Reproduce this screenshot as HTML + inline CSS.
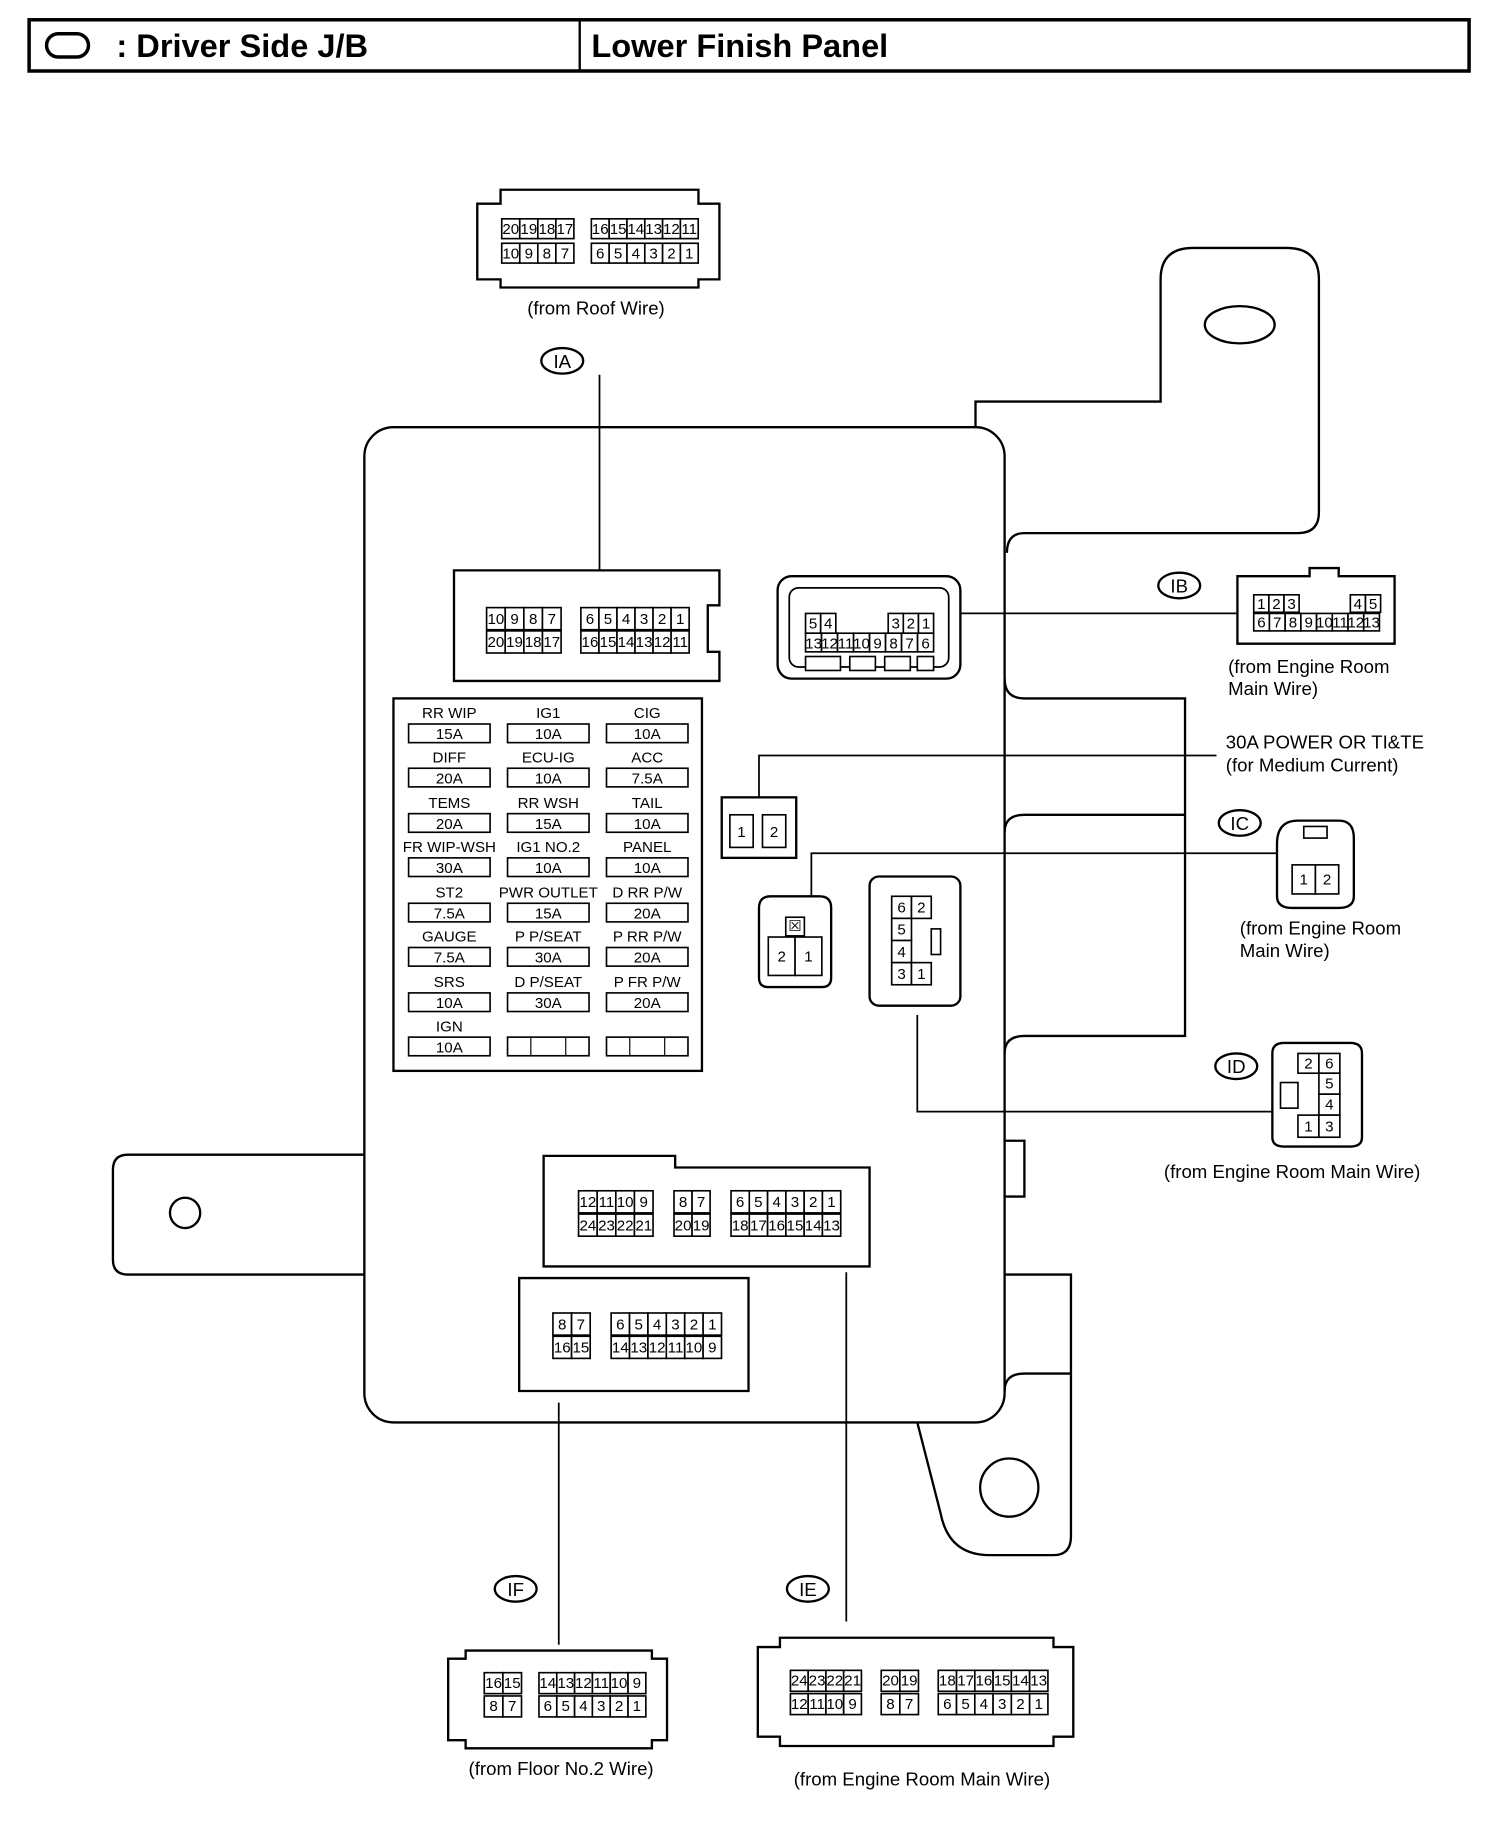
<!DOCTYPE html>
<html><head><meta charset="utf-8"><style>
html,body{margin:0;padding:0;background:#fff}
svg{display:block}
text{font-family:"Liberation Sans",Arial,sans-serif;text-anchor:middle;fill:#000}
.c rect{fill:#fff;stroke:#000;stroke-width:1.4}
.c text{font-size:13px}
.o{fill:none;stroke:#000;stroke-width:2}
.b{fill:#fff;stroke:#000;stroke-width:2}
.l{fill:none;stroke:#000;stroke-width:1.5}
.s{font-size:16px}
.sl{font-size:16px;text-anchor:start}
</style></head><body>
<svg width="1504" height="1824" viewBox="0 0 1292 1567" preserveAspectRatio="none" xmlns="http://www.w3.org/2000/svg">
<!-- header -->
<rect x="25" y="17" width="1237" height="44" fill="none" stroke="#000" stroke-width="3"/>
<line x1="498" y1="17" x2="498" y2="61" stroke="#000" stroke-width="2"/>
<rect x="40" y="29" width="36" height="20" rx="10" fill="none" stroke="#000" stroke-width="3"/>
<text x="100" y="49" style="font-size:28px;font-weight:bold;text-anchor:start">: Driver Side J/B</text>
<text x="508" y="49" style="font-size:28px;font-weight:bold;text-anchor:start">Lower Finish Panel</text>

<!-- brackets -->
<path class="o" d="M838,367 V345 H997 V240 Q997,213 1025,213 H1105 Q1133,213 1133,240 V440 Q1133,458 1115,458 H880 Q865,458 865,475"/>
<ellipse cx="1065" cy="279" rx="30" ry="16" class="o"/>
<path class="o" d="M863,583 Q863,600 880,600 H1018 V890 H880 Q863,890 863,905"/>
<path class="o" d="M863,715 Q863,700 880,700 H1018"/>
<path class="o" d="M313,992 H110 Q97,992 97,1005 V1082 Q97,1095 110,1095 H313"/>
<circle cx="159" cy="1042" r="13" class="o"/>
<path class="o" d="M863,980 H880 V1028 H863"/>
<path class="o" d="M863,1095 H920 V1320 Q920,1336 905,1336 H850 Q815,1336 808,1300 L788,1222"/>
<path class="o" d="M863,1195 Q863,1180 880,1180 H920"/>
<circle cx="867" cy="1278" r="25" class="o"/>
<rect x="313" y="367" width="550" height="855" rx="25" class="b"/>

<!-- leader lines -->
<path class="l" d="M515,322 V490"/>
<path class="l" d="M825,527 H1063"/>
<path class="l" d="M652,685 V649 H1045"/>
<path class="l" d="M697,770 V733 H1097"/>
<path class="l" d="M788,872 V955 H1093"/>
<path class="l" d="M480,1205 V1413"/>
<path class="l" d="M727,1093 V1393"/>

<!-- circle labels -->
<g class="s">
<ellipse cx="483" cy="310" rx="18" ry="11" class="o"/><text x="483" y="316" class="s">IA</text>
<ellipse cx="1013" cy="503" rx="18" ry="11" class="o"/><text x="1013" y="509" class="s">IB</text>
<ellipse cx="1065" cy="707" rx="18" ry="11" class="o"/><text x="1065" y="713" class="s">IC</text>
<ellipse cx="1062" cy="916" rx="18" ry="11" class="o"/><text x="1062" y="922" class="s">ID</text>
<ellipse cx="443" cy="1365" rx="18" ry="11" class="o"/><text x="443" y="1371" class="s">IF</text>
<ellipse cx="694" cy="1365" rx="18" ry="11" class="o"/><text x="694" y="1371" class="s">IE</text>
</g>

<!-- captions -->
<text x="512" y="270" class="s">(from Roof Wire)</text>
<text x="1055" y="578" class="sl">(from Engine Room</text>
<text x="1055" y="597" class="sl">Main Wire)</text>
<text x="1053" y="643" class="sl">30A POWER OR TI&amp;TE</text>
<text x="1053" y="663" class="sl">(for Medium Current)</text>
<text x="1065" y="803" class="sl">(from Engine Room</text>
<text x="1065" y="822" class="sl">Main Wire)</text>
<text x="1110" y="1012" class="s">(from Engine Room Main Wire)</text>
<text x="482" y="1525" class="s">(from Floor No.2 Wire)</text>
<text x="792" y="1534" class="s">(from Engine Room Main Wire)</text>

<!-- connector bodies -->
<path class="b" d="M410,175 H430 V163 H600 V175 H618 V240 H600 V247 H430 V240 H410 Z"/>
<path class="b" d="M390,490 H618 V520 H608 V560 H618 V585 H390 Z"/>
<rect x="668" y="495" width="157" height="88" rx="12" class="b"/>
<rect x="678" y="505" width="137" height="68" rx="8" class="o" style="stroke-width:1.5"/>
<path class="b" d="M1063,495 H1125 V488 H1150 V495 H1198 V553 H1063 Z"/>
<rect x="620" y="685" width="64" height="52" class="b"/>
<path class="b" d="M652,780 Q652,770 662,770 H704 Q714,770 714,780 V840 Q714,848 706,848 H660 Q652,848 652,840 Z"/>
<rect x="747" y="753" width="78" height="111" rx="8" class="b"/>
<path class="b" d="M1097,725 Q1097,705 1115,705 H1150 Q1163,705 1163,720 V770 Q1163,780 1150,780 H1110 Q1097,780 1097,770 Z"/>
<path class="b" d="M1093,905 Q1093,896 1103,896 H1160 Q1170,896 1170,905 V977 Q1170,985 1160,985 H1103 Q1093,985 1093,977 Z"/>
<path class="b" d="M467,993 H580 V1003 H747 V1088 H467 Z"/>
<path class="b" d="M446,1098 H643 V1195 H446 Z"/>
<path class="b" d="M385,1425 H400 V1418 H560 V1425 H573 V1495 H560 V1502 H400 V1495 H385 Z"/>
<path class="b" d="M651,1415 H670 V1407 H905 V1415 H922 V1492 H905 V1500 H670 V1492 H651 Z"/>

<g class="c">
<!-- IA top -->
<rect x="431" y="188" width="15.5" height="17"/><text x="438.8" y="201">20</text>
<rect x="446.5" y="188" width="15.5" height="17"/><text x="454.3" y="201">19</text>
<rect x="462" y="188" width="15.5" height="17"/><text x="469.8" y="201">18</text>
<rect x="477.5" y="188" width="15.5" height="17"/><text x="485.3" y="201">17</text>
<rect x="431" y="209" width="15.5" height="17"/><text x="438.8" y="222">10</text>
<rect x="446.5" y="209" width="15.5" height="17"/><text x="454.3" y="222">9</text>
<rect x="462" y="209" width="15.5" height="17"/><text x="469.8" y="222">8</text>
<rect x="477.5" y="209" width="15.5" height="17"/><text x="485.3" y="222">7</text>
<rect x="508" y="188" width="15.3" height="17"/><text x="515.6" y="201">16</text>
<rect x="523.3" y="188" width="15.3" height="17"/><text x="531" y="201">15</text>
<rect x="538.6" y="188" width="15.3" height="17"/><text x="546.2" y="201">14</text>
<rect x="553.9" y="188" width="15.3" height="17"/><text x="561.5" y="201">13</text>
<rect x="569.2" y="188" width="15.3" height="17"/><text x="576.8" y="201">12</text>
<rect x="584.5" y="188" width="15.3" height="17"/><text x="592.1" y="201">11</text>
<rect x="508" y="209" width="15.3" height="17"/><text x="515.6" y="222">6</text>
<rect x="523.3" y="209" width="15.3" height="17"/><text x="531" y="222">5</text>
<rect x="538.6" y="209" width="15.3" height="17"/><text x="546.2" y="222">4</text>
<rect x="553.9" y="209" width="15.3" height="17"/><text x="561.5" y="222">3</text>
<rect x="569.2" y="209" width="15.3" height="17"/><text x="576.8" y="222">2</text>
<rect x="584.5" y="209" width="15.3" height="17"/><text x="592.1" y="222">1</text>

<!-- IA in box -->
<rect x="418" y="522" width="16" height="19"/><text x="426" y="536">10</text>
<rect x="434" y="522" width="16" height="19"/><text x="442" y="536">9</text>
<rect x="450" y="522" width="16" height="19"/><text x="458" y="536">8</text>
<rect x="466" y="522" width="16" height="19"/><text x="474" y="536">7</text>
<rect x="418" y="542" width="16" height="19"/><text x="426" y="556">20</text>
<rect x="434" y="542" width="16" height="19"/><text x="442" y="556">19</text>
<rect x="450" y="542" width="16" height="19"/><text x="458" y="556">18</text>
<rect x="466" y="542" width="16" height="19"/><text x="474" y="556">17</text>
<rect x="499" y="522" width="15.5" height="19"/><text x="506.8" y="536">6</text>
<rect x="514.5" y="522" width="15.5" height="19"/><text x="522.3" y="536">5</text>
<rect x="530" y="522" width="15.5" height="19"/><text x="537.8" y="536">4</text>
<rect x="545.5" y="522" width="15.5" height="19"/><text x="553.3" y="536">3</text>
<rect x="561" y="522" width="15.5" height="19"/><text x="568.8" y="536">2</text>
<rect x="576.5" y="522" width="15.5" height="19"/><text x="584.3" y="536">1</text>
<rect x="499" y="542" width="15.5" height="19"/><text x="506.8" y="556">16</text>
<rect x="514.5" y="542" width="15.5" height="19"/><text x="522.3" y="556">15</text>
<rect x="530" y="542" width="15.5" height="19"/><text x="537.8" y="556">14</text>
<rect x="545.5" y="542" width="15.5" height="19"/><text x="553.3" y="556">13</text>
<rect x="561" y="542" width="15.5" height="19"/><text x="568.8" y="556">12</text>
<rect x="576.5" y="542" width="15.5" height="19"/><text x="584.3" y="556">11</text>

<!-- IB in box -->
<rect x="692" y="527" width="13" height="17"/><text x="698.5" y="540">5</text>
<rect x="705" y="527" width="13" height="17"/><text x="711.5" y="540">4</text>
<rect x="763" y="527" width="13" height="17"/><text x="769.5" y="540">3</text>
<rect x="776" y="527" width="13" height="17"/><text x="782.5" y="540">2</text>
<rect x="789" y="527" width="13" height="17"/><text x="795.5" y="540">1</text>
<rect x="692" y="544" width="13.75" height="16"/><text x="698.9" y="557">13</text>
<rect x="705.75" y="544" width="13.75" height="16"/><text x="712.6" y="557">12</text>
<rect x="719.5" y="544" width="13.75" height="16"/><text x="726.4" y="557">11</text>
<rect x="733.25" y="544" width="13.75" height="16"/><text x="740.1" y="557">10</text>
<rect x="747" y="544" width="13.75" height="16"/><text x="753.9" y="557">9</text>
<rect x="760.75" y="544" width="13.75" height="16"/><text x="767.6" y="557">8</text>
<rect x="774.5" y="544" width="13.75" height="16"/><text x="781.4" y="557">7</text>
<rect x="788.25" y="544" width="13.75" height="16"/><text x="795.1" y="557">6</text>
<rect x="692" y="564" width="30" height="12"/><rect x="730" y="564" width="22" height="12"/><rect x="760" y="564" width="22" height="12"/><rect x="788" y="564" width="14" height="12"/>

<!-- IB external -->
<rect x="1077" y="511" width="13" height="15"/><text x="1083.5" y="523">1</text>
<rect x="1090" y="511" width="13" height="15"/><text x="1096.5" y="523">2</text>
<rect x="1103" y="511" width="13" height="15"/><text x="1109.5" y="523">3</text>
<rect x="1160" y="511" width="13" height="15"/><text x="1166.5" y="523">4</text>
<rect x="1173" y="511" width="13" height="15"/><text x="1179.5" y="523">5</text>
<rect x="1077" y="527" width="13.5" height="15"/><text x="1083.7" y="539">6</text>
<rect x="1090.5" y="527" width="13.5" height="15"/><text x="1097.2" y="539">7</text>
<rect x="1104" y="527" width="13.5" height="15"/><text x="1110.7" y="539">8</text>
<rect x="1117.5" y="527" width="13.5" height="15"/><text x="1124.2" y="539">9</text>
<rect x="1131" y="527" width="13.5" height="15"/><text x="1137.7" y="539">10</text>
<rect x="1144.5" y="527" width="13.5" height="15"/><text x="1151.2" y="539">11</text>
<rect x="1158" y="527" width="13.5" height="15"/><text x="1164.7" y="539">12</text>
<rect x="1171.5" y="527" width="13.5" height="15"/><text x="1178.2" y="539">13</text>

<!-- 30A -->
<rect x="627" y="700" width="20" height="28"/><text x="637" y="719">1</text>
<rect x="655" y="700" width="20" height="28"/><text x="665" y="719">2</text>

<!-- IC internal -->
<rect x="675" y="788" width="16" height="16"/><text x="683" y="800">☒</text>
<rect x="660" y="805" width="23" height="33"/><text x="671.5" y="826">2</text>
<rect x="683" y="805" width="23" height="33"/><text x="694.5" y="826">1</text>

<!-- 6-pin internal -->
<rect x="766" y="770" width="17" height="19"/><text x="774.5" y="784">6</text>
<rect x="783" y="770" width="17" height="19"/><text x="791.5" y="784">2</text>
<rect x="766" y="789" width="17" height="19"/><text x="774.5" y="803">5</text>
<rect x="766" y="808" width="17" height="19"/><text x="774.5" y="822">4</text>
<rect x="766" y="827" width="17" height="19"/><text x="774.5" y="841">3</text>
<rect x="783" y="827" width="17" height="19"/><text x="791.5" y="841">1</text>
<rect x="800" y="798" width="8" height="22"/>

<!-- IC external -->
<rect x="1120" y="710" width="20" height="10"/>
<rect x="1110" y="743" width="20" height="25"/><text x="1120" y="760">1</text>
<rect x="1130" y="743" width="20" height="25"/><text x="1140" y="760">2</text>

<!-- ID external -->
<rect x="1115" y="905" width="18" height="17"/><text x="1124" y="918">2</text>
<rect x="1133" y="905" width="18" height="17"/><text x="1142" y="918">6</text>
<rect x="1133" y="922" width="18" height="18"/><text x="1142" y="935">5</text>
<rect x="1133" y="940" width="18" height="18"/><text x="1142" y="953">4</text>
<rect x="1115" y="958" width="18" height="19"/><text x="1124" y="972">1</text>
<rect x="1133" y="958" width="18" height="19"/><text x="1142" y="972">3</text>
<rect x="1100" y="930" width="15" height="22"/>

<!-- IE in box -->
<rect x="497" y="1023" width="16" height="19"/><text x="505" y="1037">12</text>
<rect x="513" y="1023" width="16" height="19"/><text x="521" y="1037">11</text>
<rect x="529" y="1023" width="16" height="19"/><text x="537" y="1037">10</text>
<rect x="545" y="1023" width="16" height="19"/><text x="553" y="1037">9</text>
<rect x="497" y="1043" width="16" height="19"/><text x="505" y="1057">24</text>
<rect x="513" y="1043" width="16" height="19"/><text x="521" y="1057">23</text>
<rect x="529" y="1043" width="16" height="19"/><text x="537" y="1057">22</text>
<rect x="545" y="1043" width="16" height="19"/><text x="553" y="1057">21</text>
<rect x="579" y="1023" width="15.5" height="19"/><text x="586.8" y="1037">8</text>
<rect x="594.5" y="1023" width="15.5" height="19"/><text x="602.3" y="1037">7</text>
<rect x="579" y="1043" width="15.5" height="19"/><text x="586.8" y="1057">20</text>
<rect x="594.5" y="1043" width="15.5" height="19"/><text x="602.3" y="1057">19</text>
<rect x="628" y="1023" width="15.7" height="19"/><text x="635.8" y="1037">6</text>
<rect x="643.7" y="1023" width="15.7" height="19"/><text x="651.5" y="1037">5</text>
<rect x="659.4" y="1023" width="15.7" height="19"/><text x="667.2" y="1037">4</text>
<rect x="675.1" y="1023" width="15.7" height="19"/><text x="682.9" y="1037">3</text>
<rect x="690.8" y="1023" width="15.7" height="19"/><text x="698.6" y="1037">2</text>
<rect x="706.5" y="1023" width="15.7" height="19"/><text x="714.3" y="1037">1</text>
<rect x="628" y="1043" width="15.7" height="19"/><text x="635.8" y="1057">18</text>
<rect x="643.7" y="1043" width="15.7" height="19"/><text x="651.5" y="1057">17</text>
<rect x="659.4" y="1043" width="15.7" height="19"/><text x="667.2" y="1057">16</text>
<rect x="675.1" y="1043" width="15.7" height="19"/><text x="682.9" y="1057">15</text>
<rect x="690.8" y="1043" width="15.7" height="19"/><text x="698.6" y="1057">14</text>
<rect x="706.5" y="1043" width="15.7" height="19"/><text x="714.3" y="1057">13</text>

<!-- IF in box -->
<rect x="475" y="1128" width="16" height="19"/><text x="483" y="1142">8</text>
<rect x="491" y="1128" width="16" height="19"/><text x="499" y="1142">7</text>
<rect x="475" y="1148" width="16" height="19"/><text x="483" y="1162">16</text>
<rect x="491" y="1148" width="16" height="19"/><text x="499" y="1162">15</text>
<rect x="525" y="1128" width="15.8" height="19"/><text x="532.9" y="1142">6</text>
<rect x="540.8" y="1128" width="15.8" height="19"/><text x="548.7" y="1142">5</text>
<rect x="556.6" y="1128" width="15.8" height="19"/><text x="564.5" y="1142">4</text>
<rect x="572.4" y="1128" width="15.8" height="19"/><text x="580.3" y="1142">3</text>
<rect x="588.2" y="1128" width="15.8" height="19"/><text x="596.1" y="1142">2</text>
<rect x="604" y="1128" width="15.8" height="19"/><text x="611.9" y="1142">1</text>
<rect x="525" y="1148" width="15.8" height="19"/><text x="532.9" y="1162">14</text>
<rect x="540.8" y="1148" width="15.8" height="19"/><text x="548.7" y="1162">13</text>
<rect x="556.6" y="1148" width="15.8" height="19"/><text x="564.5" y="1162">12</text>
<rect x="572.4" y="1148" width="15.8" height="19"/><text x="580.3" y="1162">11</text>
<rect x="588.2" y="1148" width="15.8" height="19"/><text x="596.1" y="1162">10</text>
<rect x="604" y="1148" width="15.8" height="19"/><text x="611.9" y="1162">9</text>

<!-- IF external -->
<rect x="416" y="1437" width="16" height="18"/><text x="424" y="1450">16</text>
<rect x="432" y="1437" width="16" height="18"/><text x="440" y="1450">15</text>
<rect x="416" y="1457" width="16" height="18"/><text x="424" y="1470">8</text>
<rect x="432" y="1457" width="16" height="18"/><text x="440" y="1470">7</text>
<rect x="463" y="1437" width="15.3" height="18"/><text x="470.6" y="1450">14</text>
<rect x="478.3" y="1437" width="15.3" height="18"/><text x="486" y="1450">13</text>
<rect x="493.6" y="1437" width="15.3" height="18"/><text x="501.2" y="1450">12</text>
<rect x="508.9" y="1437" width="15.3" height="18"/><text x="516.5" y="1450">11</text>
<rect x="524.2" y="1437" width="15.3" height="18"/><text x="531.8" y="1450">10</text>
<rect x="539.5" y="1437" width="15.3" height="18"/><text x="547.1" y="1450">9</text>
<rect x="463" y="1457" width="15.3" height="18"/><text x="470.6" y="1470">6</text>
<rect x="478.3" y="1457" width="15.3" height="18"/><text x="486" y="1470">5</text>
<rect x="493.6" y="1457" width="15.3" height="18"/><text x="501.2" y="1470">4</text>
<rect x="508.9" y="1457" width="15.3" height="18"/><text x="516.5" y="1470">3</text>
<rect x="524.2" y="1457" width="15.3" height="18"/><text x="531.8" y="1470">2</text>
<rect x="539.5" y="1457" width="15.3" height="18"/><text x="547.1" y="1470">1</text>

<!-- IE external -->
<rect x="679" y="1435" width="15.25" height="18"/><text x="686.6" y="1448">24</text>
<rect x="694.25" y="1435" width="15.25" height="18"/><text x="701.9" y="1448">23</text>
<rect x="709.5" y="1435" width="15.25" height="18"/><text x="717.1" y="1448">22</text>
<rect x="724.75" y="1435" width="15.25" height="18"/><text x="732.4" y="1448">21</text>
<rect x="679" y="1455" width="15.25" height="18"/><text x="686.6" y="1468">12</text>
<rect x="694.25" y="1455" width="15.25" height="18"/><text x="701.9" y="1468">11</text>
<rect x="709.5" y="1455" width="15.25" height="18"/><text x="717.1" y="1468">10</text>
<rect x="724.75" y="1455" width="15.25" height="18"/><text x="732.4" y="1468">9</text>
<rect x="757" y="1435" width="16" height="18"/><text x="765" y="1448">20</text>
<rect x="773" y="1435" width="16" height="18"/><text x="781" y="1448">19</text>
<rect x="757" y="1455" width="16" height="18"/><text x="765" y="1468">8</text>
<rect x="773" y="1455" width="16" height="18"/><text x="781" y="1468">7</text>
<rect x="806" y="1435" width="15.7" height="18"/><text x="813.8" y="1448">18</text>
<rect x="821.7" y="1435" width="15.7" height="18"/><text x="829.5" y="1448">17</text>
<rect x="837.4" y="1435" width="15.7" height="18"/><text x="845.2" y="1448">16</text>
<rect x="853.1" y="1435" width="15.7" height="18"/><text x="860.9" y="1448">15</text>
<rect x="868.8" y="1435" width="15.7" height="18"/><text x="876.6" y="1448">14</text>
<rect x="884.5" y="1435" width="15.7" height="18"/><text x="892.3" y="1448">13</text>
<rect x="806" y="1455" width="15.7" height="18"/><text x="813.8" y="1468">6</text>
<rect x="821.7" y="1455" width="15.7" height="18"/><text x="829.5" y="1468">5</text>
<rect x="837.4" y="1455" width="15.7" height="18"/><text x="845.2" y="1468">4</text>
<rect x="853.1" y="1455" width="15.7" height="18"/><text x="860.9" y="1468">3</text>
<rect x="868.8" y="1455" width="15.7" height="18"/><text x="876.6" y="1468">2</text>
<rect x="884.5" y="1455" width="15.7" height="18"/><text x="892.3" y="1468">1</text>
</g>

<!-- fuse block -->
<rect x="338" y="600" width="265" height="320" fill="#fff" stroke="#000" stroke-width="2"/>
<g class="c">
<text x="386" y="617">RR WIP</text><rect x="351" y="622" width="70" height="16"/><text x="386" y="635">15A</text>
<text x="471" y="617">IG1</text><rect x="436" y="622" width="70" height="16"/><text x="471" y="635">10A</text>
<text x="556" y="617">CIG</text><rect x="521" y="622" width="70" height="16"/><text x="556" y="635">10A</text>

<text x="386" y="655">DIFF</text><rect x="351" y="660" width="70" height="16"/><text x="386" y="673">20A</text>
<text x="471" y="655">ECU-IG</text><rect x="436" y="660" width="70" height="16"/><text x="471" y="673">10A</text>
<text x="556" y="655">ACC</text><rect x="521" y="660" width="70" height="16"/><text x="556" y="673">7.5A</text>

<text x="386" y="694">TEMS</text><rect x="351" y="699" width="70" height="16"/><text x="386" y="712">20A</text>
<text x="471" y="694">RR WSH</text><rect x="436" y="699" width="70" height="16"/><text x="471" y="712">15A</text>
<text x="556" y="694">TAIL</text><rect x="521" y="699" width="70" height="16"/><text x="556" y="712">10A</text>

<text x="386" y="732">FR WIP-WSH</text><rect x="351" y="737" width="70" height="16"/><text x="386" y="750">30A</text>
<text x="471" y="732">IG1 NO.2</text><rect x="436" y="737" width="70" height="16"/><text x="471" y="750">10A</text>
<text x="556" y="732">PANEL</text><rect x="521" y="737" width="70" height="16"/><text x="556" y="750">10A</text>

<text x="386" y="771">ST2</text><rect x="351" y="776" width="70" height="16"/><text x="386" y="789">7.5A</text>
<text x="471" y="771">PWR OUTLET</text><rect x="436" y="776" width="70" height="16"/><text x="471" y="789">15A</text>
<text x="556" y="771">D RR P/W</text><rect x="521" y="776" width="70" height="16"/><text x="556" y="789">20A</text>

<text x="386" y="809">GAUGE</text><rect x="351" y="814" width="70" height="16"/><text x="386" y="827">7.5A</text>
<text x="471" y="809">P P/SEAT</text><rect x="436" y="814" width="70" height="16"/><text x="471" y="827">30A</text>
<text x="556" y="809">P RR P/W</text><rect x="521" y="814" width="70" height="16"/><text x="556" y="827">20A</text>

<text x="386" y="848">SRS</text><rect x="351" y="853" width="70" height="16"/><text x="386" y="866">10A</text>
<text x="471" y="848">D P/SEAT</text><rect x="436" y="853" width="70" height="16"/><text x="471" y="866">30A</text>
<text x="556" y="848">P FR P/W</text><rect x="521" y="853" width="70" height="16"/><text x="556" y="866">20A</text>

<text x="386" y="886">IGN</text><rect x="351" y="891" width="70" height="16"/><text x="386" y="904">10A</text>
<rect x="436" y="891" width="70" height="16"/><line x1="456" y1="891" x2="456" y2="907" stroke="#000"/><line x1="486" y1="891" x2="486" y2="907" stroke="#000"/>
<rect x="521" y="891" width="70" height="16"/><line x1="541" y1="891" x2="541" y2="907" stroke="#000"/><line x1="571" y1="891" x2="571" y2="907" stroke="#000"/>
</g>
</svg>
</body></html>
